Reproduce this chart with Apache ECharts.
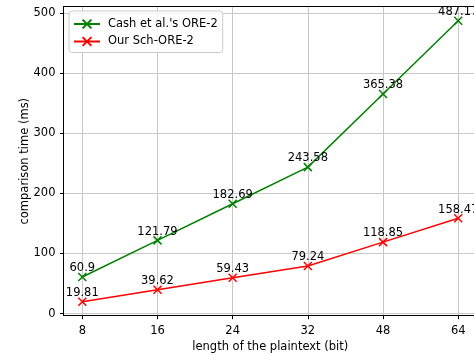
<!DOCTYPE html>
<html><head><meta charset="utf-8">
<script src="https://cdn.jsdelivr.net/npm/echarts@6/dist/echarts.min.js"></script>
<style>html,body{margin:0;padding:0;background:#fff}#c{width:474px;height:354px}</style>
</head><body><div id="c"></div>
<script>
var xLabels = ['8','16','24','32','48','64'];
var cashValues = [60.9, 121.79, 182.69, 243.58, 365.38, 487.17];
var oursValues = [19.81, 39.62, 59.43, 79.24, 118.85, 158.47];
var yTicks = [0, 100, 200, 300, 400, 500];
var seriesNames = ["Cash et al.'s ORE-2", 'Our Sch-ORE-2'];

var FONT = 'DejaVu Sans';
var FS = 11.5;
var xIdx = xLabels.map(function(_, i){ return i; });
function pts(vals){ return vals.map(function(v, i){ return [i, v]; }); }
var xMark = 'path://M0,0L10,10M10,0L0,10';
var X_MIN = -0.25, X_MAX = 5.21;

function mk(name, vals, color){
  return {
    name: name, type: 'line', data: pts(vals), xAxisIndex: 0,
    symbol: xMark, symbolSize: 8,
    itemStyle: {color: color, borderColor: color, borderWidth: 1.5},
    lineStyle: {color: color, width: 1.5},
    label: {show: true, position: 'top', distance: -2, color: '#000',
      fontFamily: FONT, fontSize: FS,
      formatter: function(p){ return String(p.value[1]); }},
    emphasis: {disabled: true}, animation: false
  };
}

var chart = echarts.init(document.getElementById('c'));
chart.setOption({
  animation: false,
  grid: {left: 63.5, right: 0, top: 6.7, bottom: 38.3, outerBoundsMode: 'none', containLabel: false},
  legend: {
    left: 69, top: 11, orient: 'vertical',
    data: seriesNames,
    itemWidth: 26, itemHeight: 11, itemGap: 5.5,
    padding: [7, 5, 5, 4],
    backgroundColor: 'rgba(255,255,255,0.8)', borderColor: '#cccccc',
    borderWidth: 1, borderRadius: 3,
    textStyle: {fontFamily: FONT, fontSize: FS, color: '#000', padding: [0,0,0,3]}
  },
  xAxis: [{
    type: 'value', min: X_MIN, max: X_MAX,
    name: 'length of the plaintext (bit)', nameLocation: 'middle', nameGap: 25, nameMoveOverlap: false,
    nameTextStyle: {fontFamily: FONT, fontSize: FS, color: '#000', padding: [0,0,0,3]},
    axisLine: {show: true, onZero: false, lineStyle: {color: '#000', width: 1}},
    axisTick: {show: true, length: 3.5, customValues: xIdx, lineStyle: {color: '#000'}},
    axisLabel: {customValues: xIdx, margin: 9, fontFamily: FONT, fontSize: FS, color: '#000',
      formatter: function(v){ return xLabels[Math.round(v)]; }},
    splitLine: {show: true, lineStyle: {color: '#c8c8c8', width: 1}}
  }, {
    type: 'value', min: X_MIN, max: X_MAX, position: 'top',
    axisLine: {show: true, onZero: false, lineStyle: {color: '#000', width: 1}},
    axisTick: {show: false}, axisLabel: {show: false}, splitLine: {show: false}
  }],
  yAxis: {
    type: 'value', min: -3.55, max: 510.5,
    name: 'comparison time (ms)', nameLocation: 'middle', nameGap: 32, nameMoveOverlap: false,
    nameTextStyle: {fontFamily: FONT, fontSize: FS, color: '#000'},
    axisLine: {show: true, onZero: false, lineStyle: {color: '#000', width: 1}},
    axisTick: {show: true, length: 3.5, customValues: yTicks, lineStyle: {color: '#000'}},
    axisLabel: {customValues: yTicks, margin: 8, fontFamily: FONT, fontSize: FS, color: '#000'},
    splitLine: {show: true, lineStyle: {color: '#c8c8c8', width: 1}}
  },
  series: [mk(seriesNames[0], cashValues, '#008000'), mk(seriesNames[1], oursValues, '#ff0000')]
});
</script></body></html>
